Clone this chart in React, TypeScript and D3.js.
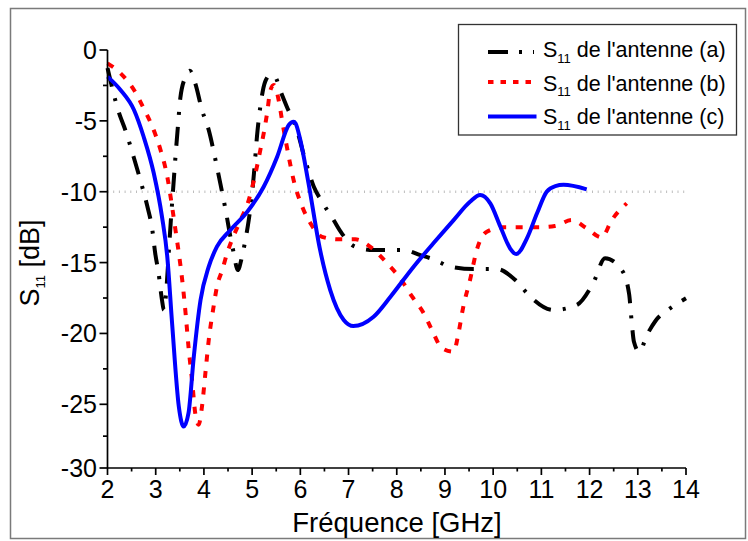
import React from "react";
import * as d3 from "d3";

// ---- data (frequency in GHz, S11 in dB) ----
const freqA = [2.0, 2.23, 2.37, 2.55, 2.68, 2.82, 2.93, 2.99, 3.06, 3.13, 3.17, 3.22, 3.27, 3.31, 3.36, 3.41, 3.46, 3.51, 3.62, 3.71, 3.82, 3.96, 4.10, 4.24, 4.34, 4.45, 4.55, 4.62, 4.70, 4.79, 4.86, 4.93, 5.0, 5.05, 5.10, 5.17, 5.27, 5.38, 5.48, 5.58, 5.72, 5.93, 6.10, 6.28, 6.45, 6.69, 6.86, 7.14, 7.52, 7.83, 8.14, 8.49, 8.80, 9.11, 9.59, 10.08, 10.46, 10.77, 11.25, 11.73, 12.08, 12.32, 12.67, 12.82, 12.87, 12.92, 13.03, 13.19, 13.37, 13.67, 14.0];
const s11A = [-1.27, -4.35, -5.65, -7.64, -9.17, -10.94, -12.70, -14.35, -15.76, -17.64, -18.35, -16.94, -14.35, -12.23, -9.88, -7.53, -5.41, -3.41, -1.88, -1.46, -2.35, -4.23, -5.65, -7.76, -9.41, -11.29, -13.18, -14.35, -15.53, -14.59, -13.41, -12.0, -10.11, -8.24, -6.12, -4.0, -2.24, -1.76, -1.9, -2.82, -4.0, -5.65, -7.76, -9.65, -10.71, -12.0, -12.94, -13.88, -14.11, -14.11, -14.11, -14.47, -14.82, -15.29, -15.46, -15.46, -16.23, -17.41, -18.35, -18.0, -16.41, -14.70, -15.53, -17.22, -19.05, -20.59, -21.29, -20.11, -19.10, -18.23, -17.52];

const freqB = [2.0, 2.27, 2.55, 2.75, 2.93, 3.10, 3.24, 3.34, 3.41, 3.48, 3.55, 3.62, 3.68, 3.76, 3.82, 3.89, 3.96, 4.03, 4.10, 4.20, 4.27, 4.38, 4.48, 4.58, 4.76, 4.93, 5.07, 5.17, 5.24, 5.31, 5.38, 5.45, 5.55, 5.62, 5.72, 5.86, 6.04, 6.21, 6.45, 6.79, 7.14, 7.49, 7.80, 8.07, 8.32, 8.56, 8.73, 8.94, 9.18, 9.28, 9.38, 9.52, 9.66, 9.87, 10.21, 10.56, 10.91, 11.28, 11.63, 11.94, 12.25, 12.46, 12.77];
const s11B = [-0.94, -1.64, -2.82, -4.11, -5.41, -7.06, -8.94, -11.06, -12.70, -14.35, -16.23, -18.58, -20.94, -23.52, -25.7, -26.6, -25.18, -22.82, -20.47, -18.12, -16.70, -15.53, -14.35, -13.41, -12.0, -10.59, -8.70, -7.06, -5.88, -4.47, -2.82, -2.47, -3.53, -4.94, -6.82, -9.17, -11.06, -12.23, -13.18, -13.36, -13.36, -13.99, -15.05, -16.11, -17.41, -18.58, -19.76, -21.05, -21.29, -19.99, -18.12, -16.23, -14.11, -12.82, -12.51, -12.51, -12.51, -12.42, -12.0, -12.58, -13.22, -12.0, -10.82];

const freqC = [2.0, 2.27, 2.55, 2.75, 2.96, 3.13, 3.24, 3.34, 3.48, 3.58, 3.68, 3.79, 3.93, 4.10, 4.27, 4.55, 4.90, 5.24, 5.52, 5.76, 5.86, 5.90, 6.0, 6.17, 6.41, 6.62, 6.90, 7.10, 7.52, 7.87, 8.35, 8.76, 9.18, 9.52, 9.73, 9.94, 10.15, 10.35, 10.48, 10.70, 10.91, 11.11, 11.29, 11.46, 11.94];
const s11C = [-1.88, -2.82, -4.23, -6.12, -8.70, -11.76, -14.59, -19.29, -25.19, -26.75, -25.7, -21.64, -17.64, -15.29, -13.88, -12.70, -11.41, -9.65, -7.53, -5.29, -5.06, -5.17, -6.35, -9.41, -14.11, -16.94, -19.05, -19.48, -18.82, -17.41, -15.29, -13.64, -12.0, -10.71, -10.23, -10.82, -12.47, -13.99, -14.40, -13.29, -11.52, -10.0, -9.60, -9.51, -9.83];

const xTicks = [2, 3, 4, 5, 6, 7, 8, 9, 10, 11, 12, 13, 14];
const yTicks = [0, -5, -10, -15, -20, -25, -30];
const seriesLabels = ["de l'antenne (a)", "de l'antenne (b)", "de l'antenne (c)"];
const threshold = -10;

const FONT = "'Liberation Sans', Arial, Helvetica, sans-serif";

export default function App() {
  const x = d3.scaleLinear().domain([2, 14]).range([107.5, 686]);
  const y = d3.scaleLinear().domain([0, -25, -30]).range([50, 404.3, 468]);

  const line = d3
    .line<[number, number]>()
    .x((d) => x(d[0]))
    .y((d) => y(d[1]))
    .curve(d3.curveMonotoneX);

  const zip = (a: number[], b: number[]) => a.map((v, i) => [v, b[i]] as [number, number]);

  const series = [
    { d: zip(freqA, s11A), color: "#000000", dash: "19,12,3,12", legDash: "20,11,3,11", legLen: 46 },
    { d: zip(freqB, s11B), color: "#ff0000", dash: "7,9.5", legDash: "5.5,7", legLen: 43 },
    { d: zip(freqC, s11C), color: "#0000ff", dash: "none", legDash: "none", legLen: 48.5 },
  ];

  const xMinor = d3.range(2.5, 14, 1);
  const yMinor = d3.range(-2.5, -30, -5);
  const x0 = x(2);
  const yb = y(-30);

  const legRows = [
    { text: 57, line: 52 },
    { text: 90.5, line: 82 },
    { text: 124, line: 116.5 },
  ];

  return (
    <svg
      width={748}
      height={541}
      style={{ position: "absolute", left: 0, top: 0, background: "#fff" }}
      fontFamily={FONT}
    >
      <rect x={0} y={0} width={748} height={541} fill="#fff" />
      <rect x={10.5} y={8.5} width={735} height={530} fill="none" stroke="#7a7a7a" strokeWidth={1.5} />

      {/* -10 dB reference */}
      <line
        x1={x(2)}
        x2={x(14)}
        y1={y(threshold)}
        y2={y(threshold)}
        stroke="#bdbdbd"
        strokeWidth={2.4}
        strokeDasharray="1,4.7"
      />

      {/* curves */}
      {series.map((s, i) => (
        <path
          key={i}
          d={line(s.d) || ""}
          fill="none"
          stroke={s.color}
          strokeWidth={4}
          strokeDasharray={s.dash}
          strokeLinejoin="round"
        />
      ))}

      {/* axes */}
      <line x1={x0} x2={x0} y1={y(0)} y2={yb} stroke="#000" strokeWidth={1.7} />
      <line x1={x0} x2={x(14)} y1={yb} y2={yb} stroke="#000" strokeWidth={1.7} />
      {yTicks.map((t) => (
        <g key={"y" + t}>
          <line x1={x0 - 8} x2={x0} y1={y(t)} y2={y(t)} stroke="#000" strokeWidth={1.7} />
          <text x={97} y={y(t)} dy="0.36em" textAnchor="end" fontSize={25}>
            {t}
          </text>
        </g>
      ))}
      {yMinor.map((t) => (
        <line key={"ym" + t} x1={x0 - 4.5} x2={x0} y1={y(t)} y2={y(t)} stroke="#000" strokeWidth={1.7} />
      ))}
      {xTicks.map((t) => (
        <g key={"x" + t}>
          <line x1={x(t)} x2={x(t)} y1={yb} y2={yb + 7} stroke="#000" strokeWidth={1.7} />
          <text x={x(t)} y={498} textAnchor="middle" fontSize={25}>
            {t}
          </text>
        </g>
      ))}
      {xMinor.map((t) => (
        <line key={"xm" + t} x1={x(t)} x2={x(t)} y1={yb} y2={yb + 3.5} stroke="#000" strokeWidth={1.7} />
      ))}

      {/* axis titles */}
      <text x={397} y={532} textAnchor="middle" fontSize={27.5}>
        Fréquence [GHz]
      </text>
      <text transform="translate(39,263) rotate(-90)" textAnchor="middle" fontSize={27}>
        S<tspan fontSize={13} dy={6}>11</tspan>
        <tspan dy={-6}> [dB]</tspan>
      </text>

      {/* legend */}
      <rect x={458.5} y={24.5} width={278} height={110.5} fill="#fff" stroke="#333" strokeWidth={1.3} />
      {series.map((s, i) => (
        <g key={"leg" + i}>
          <line
            x1={488}
            x2={488 + s.legLen}
            y1={legRows[i].line}
            y2={legRows[i].line}
            stroke={s.color}
            strokeWidth={4}
            strokeDasharray={s.legDash}
          />
          <text x={543} y={legRows[i].text} fontSize={21.5}>
            S<tspan fontSize={13} dy={5.5}>11</tspan>
            <tspan dy={-5.5}> {seriesLabels[i]}</tspan>
          </text>
        </g>
      ))}
    </svg>
  );
}
